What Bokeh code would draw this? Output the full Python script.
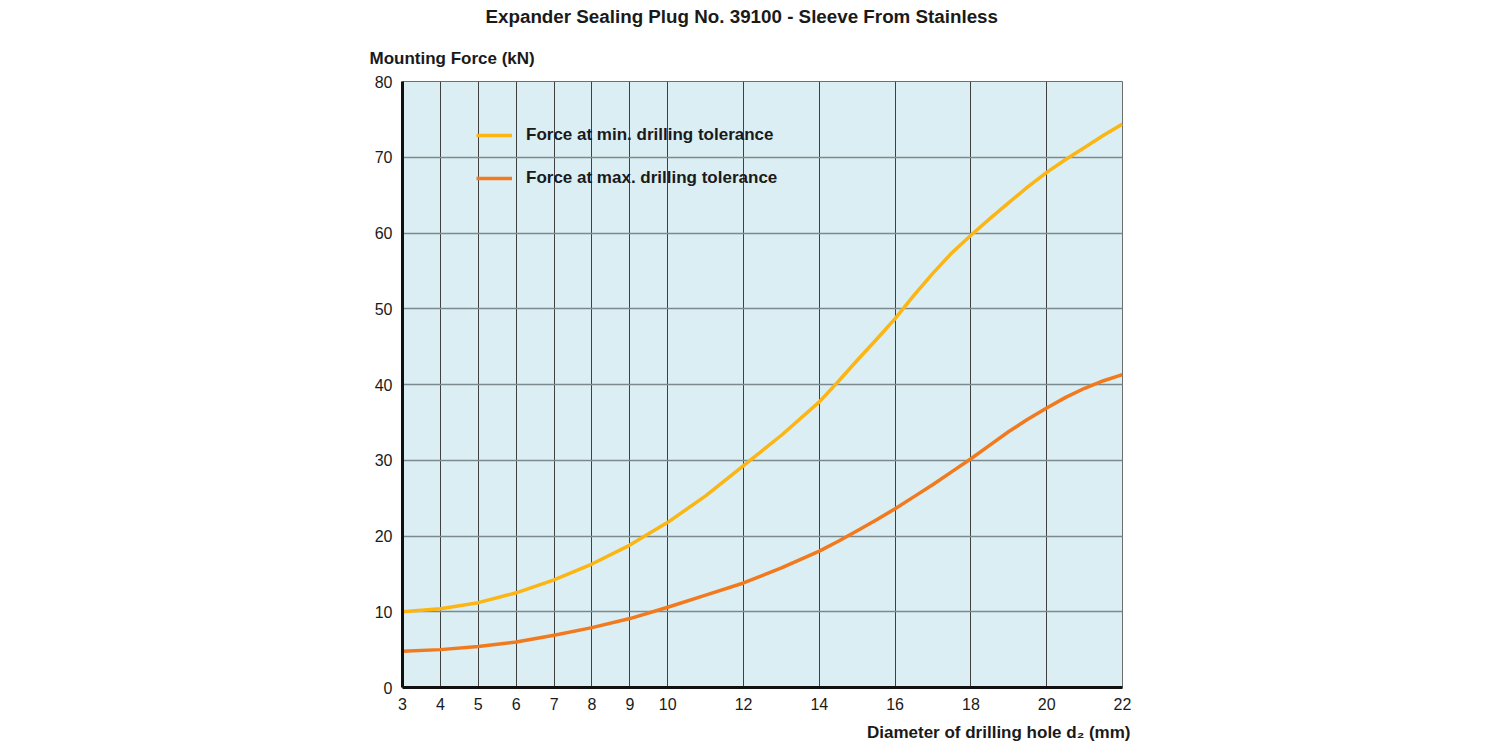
from bokeh.plotting import figure
from bokeh.models import Range1d, FixedTicker, Legend, LegendItem, Title
from bokeh.embed import file_html
from bokeh.resources import INLINE

# Data
diameter_mm = [3, 4, 5, 6, 7, 8, 9, 10, 11, 12, 13, 14, 14.5, 15, 15.5, 16, 16.5, 17, 17.5,
               18, 18.5, 19, 19.5, 20, 20.5, 21, 21.5, 22]
force_min_tol = [10.0, 10.4, 11.2, 12.5, 14.2, 16.3, 18.8, 21.8, 25.3, 29.3, 33.3, 37.7, 40.4, 43.2, 45.9,
                 48.7, 51.8, 54.7, 57.4, 59.7, 61.9, 64.0, 66.1, 68.0, 69.7, 71.3, 72.9, 74.4]
force_max_tol = [4.8, 5.0, 5.4, 6.0, 6.9, 7.9, 9.1, 10.6, 12.2, 13.8, 15.8, 18.0, 19.3, 20.7, 22.1,
                 23.6, 25.2, 26.8, 28.5, 30.2, 32.0, 33.8, 35.4, 36.9, 38.3, 39.5, 40.5, 41.3]
x_ticks = [3, 4, 5, 6, 7, 8, 9, 10, 12, 14, 16, 18, 20, 22]
y_ticks = [0, 10, 20, 30, 40, 50, 60, 70, 80]

title_text = "Expander Sealing Plug No. 39100 - Sleeve From Stainless"
y_title = "Mounting Force (kN)"
x_title = "Diameter of drilling hole d\u2082 (mm)"
series_names = ["Force at min. drilling tolerance", "Force at max. drilling tolerance"]

FONT = "Liberation Sans"
W, H = 1490, 749
FL, FR, FT, FB = 402, 1122, 81, 688  # frame edges in pixels

p = figure(width=W, height=H, output_backend="svg", toolbar_location=None,
           x_range=Range1d(3, 22), y_range=Range1d(0, 80),
           min_border_left=FL, min_border_right=W - FR, min_border_top=FT, min_border_bottom=H - FB)
p.background_fill_color = "#dbeef3"
p.border_fill_color = "white"
p.outline_line_color = "#6e6e6e"
p.outline_line_width = 1

p.xaxis.ticker = FixedTicker(ticks=x_ticks)
p.yaxis.ticker = FixedTicker(ticks=y_ticks)
p.xgrid.ticker = FixedTicker(ticks=x_ticks)
p.ygrid.ticker = FixedTicker(ticks=y_ticks)
p.xgrid.grid_line_color = "#404040"
p.xgrid.grid_line_width = 1
p.ygrid.grid_line_color = "#7d8a8d"
p.ygrid.grid_line_width = 1.4

for ax in (p.xaxis, p.yaxis):
    ax.axis_line_color = "#111111"
    ax.axis_line_width = 3
    ax.major_tick_line_color = None
    ax.minor_tick_line_color = None
    ax.major_label_text_font = FONT
    ax.major_label_text_font_size = "16px"
    ax.major_label_text_color = "#1a1a1a"
p.xaxis.major_label_standoff = 4
p.yaxis.major_label_standoff = 4

r1 = p.line(diameter_mm, force_min_tol, line_color="#fbb616", line_width=3.5, line_join="round")
r2 = p.line(diameter_mm, force_max_tol, line_color="#f27a1e", line_width=3.5, line_join="round")

legend = Legend(items=[LegendItem(label=series_names[0], renderers=[r1]),
                       LegendItem(label=series_names[1], renderers=[r2])],
                location=(74, 499), orientation="vertical",
                glyph_width=36, glyph_height=20, label_height=20, spacing=23,
                label_standoff=14, padding=0, margin=0,
                background_fill_alpha=0, border_line_alpha=0,
                label_text_font=FONT, label_text_font_size="17px",
                label_text_font_style="bold", label_text_color="#1a1a1a")
p.add_layout(legend, "center")

# main title: the figure's own title slot (outermost)
p.title.text = title_text
p.title.align = "left"
p.title.offset = 83
p.title.standoff = 10
p.title.vertical_align = "top"
p.title.text_font = FONT
p.title.text_font_size = "18.8px"
p.title.text_font_style = "bold"
p.title.text_color = "#1a1a1a"

# y-axis title, nearest to the frame
p.add_layout(Title(text=y_title, align="left", offset=-33, standoff=27,
                   text_font=FONT, text_font_size="17px", text_font_style="bold",
                   text_color="#1a1a1a"), "above")
p.add_layout(Title(text=x_title, align="right", offset=-8, standoff=16,
                   text_font=FONT, text_font_size="17px", text_font_style="bold",
                   text_color="#1a1a1a"), "below")

open("out.html", "w").write(file_html(p, INLINE))
